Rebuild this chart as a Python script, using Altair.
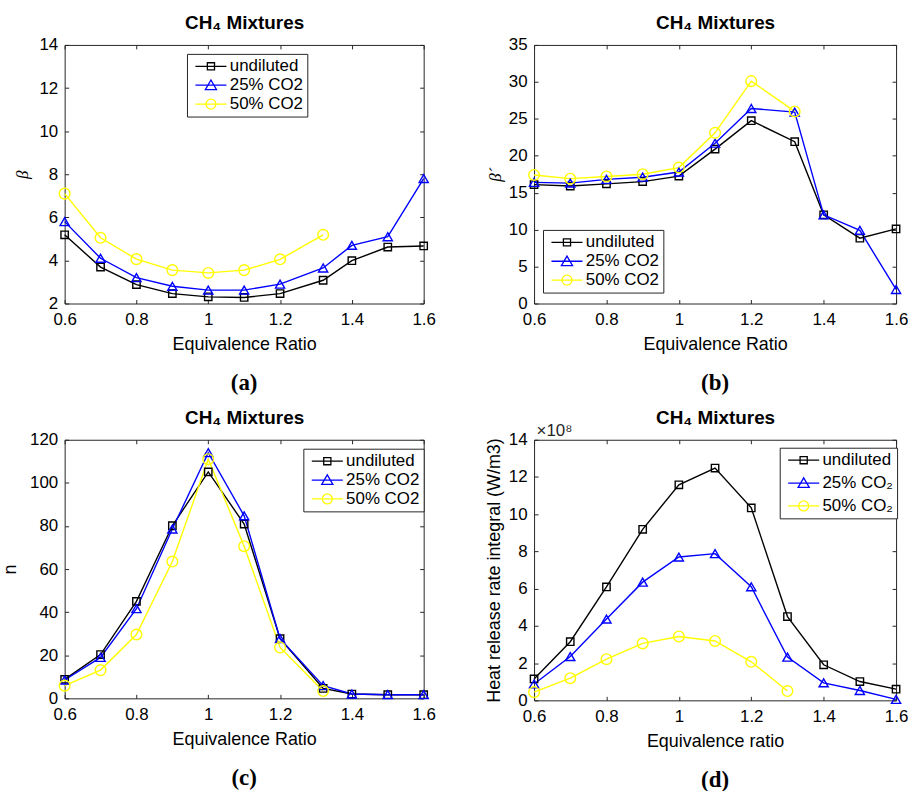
import altair as alt
import pandas as pd

# Equivalence ratios (panel d uses 1.3 instead of 1.32)
phi = [0.6, 0.7, 0.8, 0.9, 1.0, 1.1, 1.2, 1.32, 1.4, 1.5, 1.6]
phi_hrr = [0.6, 0.7, 0.8, 0.9, 1.0, 1.1, 1.2, 1.3, 1.4, 1.5, 1.6]

series = ["undiluted", "25% CO2", "50% CO2"]
series_colors = ["#000000", "#0000ff", "#ffff00"]

# (a) beta
beta_undiluted = [5.19, 3.69, 2.88, 2.46, 2.31, 2.28, 2.46, 3.08, 3.99, 4.62, 4.67]
beta_co2_25 = [5.8, 4.1, 3.2, 2.8, 2.62, 2.62, 2.9, 3.65, 4.7, 5.1, 7.8]
beta_co2_50 = [7.1, 5.05, 4.06, 3.55, 3.42, 3.55, 4.05, 5.19]

# (b) beta'
betap_undiluted = [16.1, 15.9, 16.2, 16.5, 17.25, 20.9, 24.75, 21.9, 12.0, 8.85, 10.1]
betap_co2_25 = [16.4, 16.3, 16.8, 17.1, 17.8, 21.7, 26.4, 25.9, 12.0, 9.9, 1.9]
betap_co2_50 = [17.4, 16.9, 17.2, 17.5, 18.4, 23.1, 30.1, 26.0]

# (c) n
n_undiluted = [8.8, 20.3, 45.0, 80.1, 105.1, 80.9, 27.7, 4.6, 2.0, 1.7, 1.7]
n_co2_25 = [8.5, 19.0, 41.6, 78.6, 114.0, 84.7, 27.7, 5.9, 2.0, 1.7, 1.7]
n_co2_50 = [5.9, 13.1, 29.6, 63.5, 111.0, 70.6, 23.6, 3.4]

# (d) heat release rate integral, in units of 1e8 W/m3
hrr_undiluted = [1.15, 3.15, 6.09, 9.19, 11.58, 12.48, 10.34, 4.5, 1.91, 1.01, 0.6]
hrr_co2_25 = [0.88, 2.35, 4.37, 6.35, 7.7, 7.88, 6.1, 2.32, 0.94, 0.53, 0.05]
hrr_co2_50 = [0.44, 1.19, 2.21, 3.06, 3.43, 3.19, 2.07, 0.5]

x_ticks = [0.6, 0.8, 1.0, 1.2, 1.4, 1.6]
INK = "#262626"
SANS = "Liberation Sans"
SERIF = "Liberation Serif"
LABEL_SIZE = 17

# legend glyphs: a line segment with the series marker in the middle
LEGEND_SHAPES = [
    "M-1,0H6.8M2,-0.9H3.8V0.9H2Z",
    "M-1,0H6.8M1.5,1.1L2.9,-1.3L4.3,1.1Z",
    "M-1,0H6.8M1.65,0A1.25,1.25,0,1,0,4.15,0A1.25,1.25,0,1,0,1.65,0Z",
]


def frame(xs, cols):
    rows = []
    for name, vals in zip(series, cols):
        for x, v in zip(xs, vals):
            rows.append({"phi": x, "value": v, "series": name})
    return pd.DataFrame(rows)


def panel(df, letter, y_domain, y_ticks, y_title, y_title_style, legend_xy,
          height=260, width=364, subscript_labels=False, exponent=None,
          y_title_pad=6, x_title="Equivalence Ratio", legend_row_pad=1):
    xscale = alt.Scale(domain=[0.6, 1.6], nice=False, zero=False)
    yscale = alt.Scale(domain=y_domain, nice=False, zero=False)
    cscale = alt.Scale(domain=series, range=series_colors)

    # inward ticks: axis pulled 4px into the plot, ticks pointing back to the frame
    tick_axis = dict(domain=False, grid=False, ticks=True, tickSize=4,
                     offset=-4, tickColor=INK, tickWidth=1, labelFlush=False)

    x_bottom = alt.Axis(values=x_ticks, format="~g", title=x_title,
                        labelPadding=8, titlePadding=8, titleFontSize=18, **tick_axis)
    y_left = alt.Axis(values=y_ticks, format="d", title=y_title,
                      labelPadding=7, titlePadding=y_title_pad, **y_title_style, **tick_axis)
    x_top = alt.Axis(orient="top", values=x_ticks, labels=False,
                     title="CH\u2084 Mixtures", titleFontWeight="bold",
                     titleFontSize=19, titlePadding=12, titleColor="#000000",
                     **tick_axis)
    right_kw = dict(orient="right", values=y_ticks, labels=False, **tick_axis)
    if exponent:
        right_kw.update(title=exponent, titleAngle=0, titleAlign="left",
                        titleBaseline="alphabetic", titleX=-(width - 4) + 2,
                        titleY=-4, titleFontSize=17, titleFontWeight="normal",
                        titleColor=INK)
    else:
        right_kw.update(title=None)
    y_right = alt.Axis(**right_kw)

    base = alt.Chart(df)

    lines = base.mark_line(strokeWidth=1.4).encode(
        x=alt.X("phi:Q", scale=xscale, axis=x_bottom),
        y=alt.Y("value:Q", scale=yscale, axis=y_left),
        color=alt.Color("series:N", scale=cscale, legend=None),
        order="phi:Q",
    )

    points = base.mark_point(filled=False, strokeWidth=1.4, opacity=1).encode(
        x=alt.X("phi:Q", scale=xscale, axis=x_top),
        y=alt.Y("value:Q", scale=yscale, axis=y_right),
        color=alt.Color("series:N", scale=cscale, legend=None),
        shape=alt.Shape("series:N", scale=alt.Scale(domain=series, range=["square", "triangle-up", "circle"]), legend=None),
        size=alt.Size("series:N", scale=alt.Scale(domain=series, range=[55, 115, 110]), legend=None),
    )

    label_expr = "replace(datum.label, 'CO2', 'CO\u2082')" if subscript_labels else "datum.label"
    legend = alt.Legend(
        orient="none", legendX=legend_xy[0], legendY=legend_xy[1], title=None,
        fillColor="#ffffff", strokeColor=INK, padding=4,
        labelFont=SANS, labelFontSize=LABEL_SIZE, labelColor="#000000", labelOffset=22,
        symbolSize=64, symbolStrokeWidth=1.3, rowPadding=legend_row_pad, labelExpr=label_expr,
    )
    legend_layer = base.transform_filter("false").mark_point(filled=False, opacity=1).encode(
        x=alt.X("phi:Q", scale=xscale, axis=None),
        y=alt.Y("value:Q", scale=yscale, axis=None),
        color=alt.Color("series:N", scale=cscale, legend=legend),
        shape=alt.Shape("series:N", scale=alt.Scale(domain=series, range=LEGEND_SHAPES), legend=legend),
    )

    return (
        alt.layer(lines, points, legend_layer)
        .resolve_scale(shape="independent", color="independent", size="independent")
        .resolve_axis(x="independent", y="independent")
        .properties(
            width=width, height=height,
            title=alt.TitleParams(letter, orient="bottom", font=SERIF, fontSize=23,
                                  fontWeight="bold", color="#000000", offset=19,
                                  frame="group"),
        )
    )


beta_style = dict(titleFont=SERIF, titleFontStyle="italic", titleFontWeight="normal", titleFontSize=17)
plain_style = dict(titleFontSize=18)

pa = panel(frame(phi, [beta_undiluted, beta_co2_25, beta_co2_50]), "(a)",
           [2, 14], [2, 4, 6, 8, 10, 12, 14], "\u03b2", beta_style, (123, 9), width=361,
           y_title_pad=7)
pb = panel(frame(phi, [betap_undiluted, betap_co2_25, betap_co2_50]), "(b)",
           [0, 35], [0, 5, 10, 15, 20, 25, 30, 35], "\u03b2\u00b4", beta_style, (9, 186),
           y_title_pad=4)
pc = panel(frame(phi, [n_undiluted, n_co2_25, n_co2_50]), "(c)",
           [0, 120], [0, 20, 40, 60, 80, 100, 120], "n", plain_style, (240, 9), width=361,
           y_title_pad=10)
pd_ = panel(frame(phi_hrr, [hrr_undiluted, hrr_co2_25, hrr_co2_50]), "(d)",
            [0, 14], [0, 2, 4, 6, 8, 10, 12, 14], "Heat release rate integral (W/m3)",
            dict(titleFontSize=18), (247, 8), height=262, subscript_labels=True,
            exponent="\u00d710\u2078", y_title_pad=5, x_title="Equivalence ratio",
            legend_row_pad=5)

chart = (
    alt.concat(pa, pb, pc, pd_, columns=2, spacing={"row": 12, "column": 48}, align="each")
    .properties(padding={"left": 1, "top": 11, "right": 0, "bottom": 0})
    .configure(font=SANS)
    .configure_view(stroke=INK, strokeWidth=1)
    .configure_axis(labelFont=SANS, labelFontSize=LABEL_SIZE, labelColor="#000000",
                    titleFont=SANS, titleColor="#000000", titleFontWeight="normal")
)

chart.save("out.html", embed_options={"renderer": "svg", "actions": False})
